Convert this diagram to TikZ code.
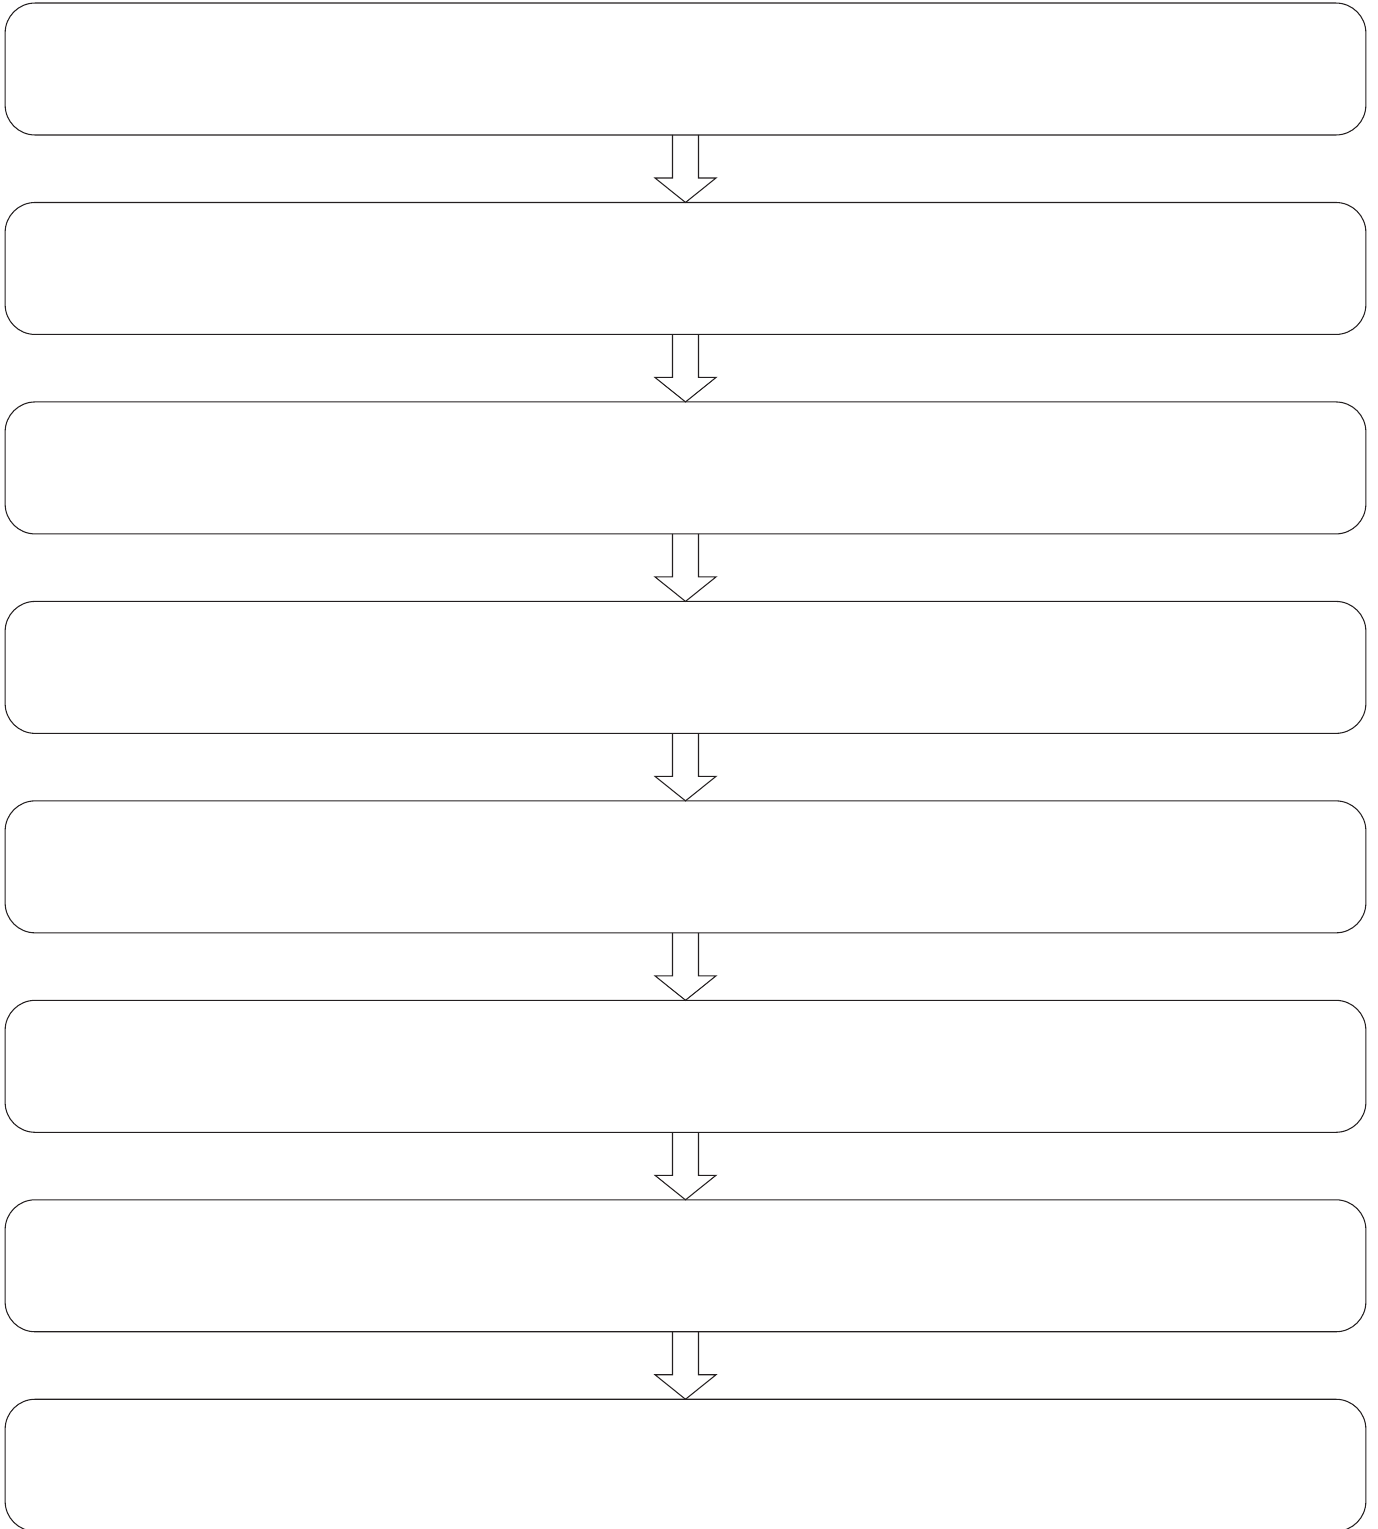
\documentclass[tikz,border=0pt]{standalone}
\usepackage{tikz}
\usetikzlibrary{positioning,calc}
\definecolor{linegray}{HTML}{231F20}

\begin{document}
\begin{tikzpicture}[x=0.02cm,y=-0.02cm,node distance=1.35cm,
  stage/.style={draw=linegray,rounded corners=0.6cm,minimum width=27.22cm,
      minimum height=2.64cm,inner sep=0pt,outer sep=0pt,line width=0.6pt},
  hollow/.style={draw=linegray,line width=0.6pt,line join=miter}]
\useasboundingbox (0,0) rectangle (1378,1529);
\clip (0,0) rectangle (1378,1529);
\node[stage] (s1) at (685.5,69) {};
\node[stage,below=of s1] (s2) {};
\node[stage,below=of s2] (s3) {};
\node[stage,below=of s3] (s4) {};
\node[stage,below=of s4] (s5) {};
\node[stage,below=of s5] (s6) {};
\node[stage,below=of s6] (s7) {};
\node[stage,below=of s7] (s8) {};
% hollow block arrows between the stages
\foreach \i [count=\j from 2] in {1,...,7} {
  \draw[hollow] ($(s\i.south)+(-13,0)$) -- ($(s\i.south)+(-13,43)$)
    -- ($(s\i.south)+(-30.5,43)$) -- (s\j.north) -- ($(s\i.south)+(30.5,43)$)
    -- ($(s\i.south)+(13,43)$) -- ($(s\i.south)+(13,0)$);
}
\end{tikzpicture}
\end{document}
